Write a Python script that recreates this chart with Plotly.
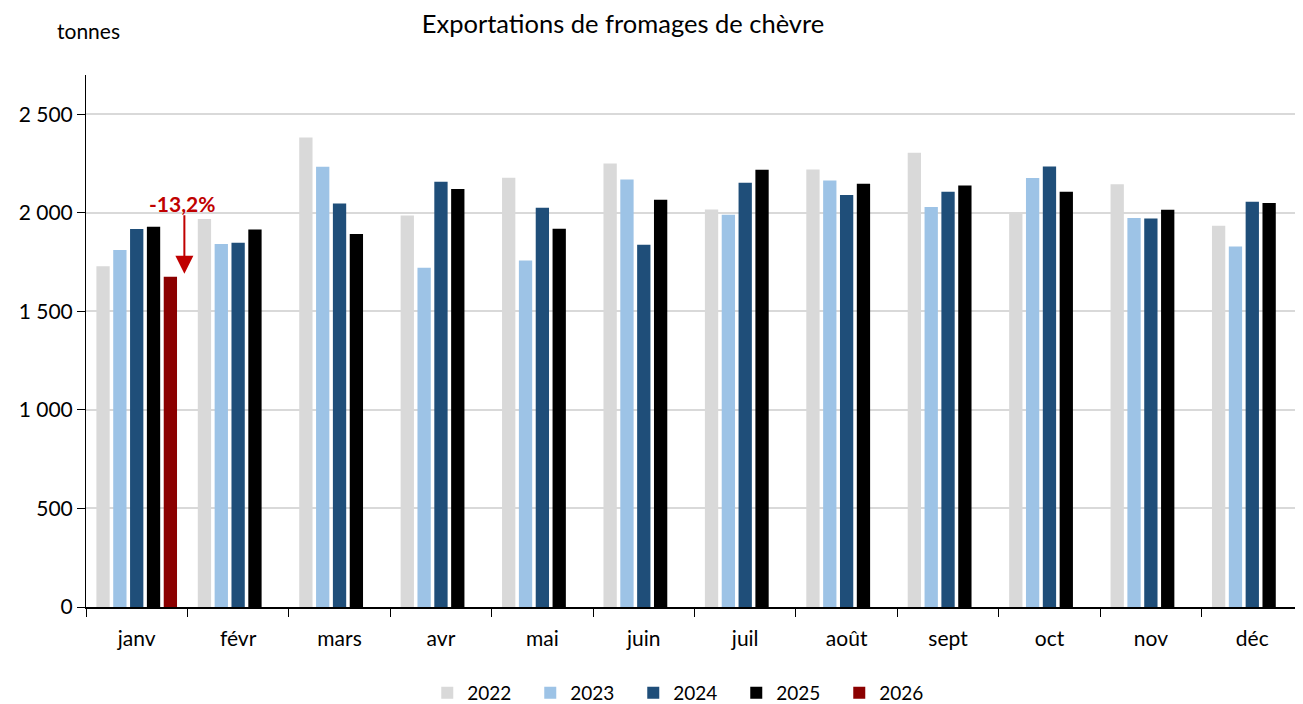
import plotly.graph_objects as go

months = ["janv", "févr", "mars", "avr", "mai", "juin", "juil", "août", "sept", "oct", "nov", "déc"]
v2022 = [1729, 1969, 2383, 1987, 2178, 2251, 2018, 2220, 2305, 2000, 2145, 1935]
v2023 = [1812, 1842, 2234, 1722, 1758, 2170, 1991, 2165, 2030, 2177, 1974, 1830]
v2024 = [1918, 1849, 2048, 2158, 2026, 1839, 2153, 2091, 2107, 2236, 1972, 2057]
v2025 = [1930, 1916, 1893, 2121, 1920, 2067, 2219, 2148, 2139, 2107, 2016, 2050]
v2026 = [1676, None, None, None, None, None, None, None, None, None, None, None]
change_label = "-13,2%"

series = [
    ("2022", v2022, "#d9d9d9"),
    ("2023", v2023, "#9dc3e6"),
    ("2024", v2024, "#1f4e79"),
    ("2025", v2025, "#000000"),
    ("2026", v2026, "#8b0000"),
]

FONT = "Lato"
W, H = 1295, 696
L, T, B = 78, 67, 97
plot_h = H - T - B

fig = go.Figure()
for name, vals, col in series:
    fig.add_trace(go.Bar(x=months, y=vals, name=name, marker=dict(color=col, line=dict(width=0))))

fig.update_layout(
    width=W, height=H,
    barmode="group", bargap=0.17, bargroupgap=0.21,
    plot_bgcolor="white", paper_bgcolor="white",
    separators=", ",
    margin=dict(l=L, r=0, t=T, b=B, autoexpand=False),
    font=dict(family=FONT, size=20, color="#000000"),
    title=dict(text="Exportations de fromages de chèvre", x=(623 - 8) / W, xanchor="center",
               y=1 - 16.5 / H, yanchor="middle", font=dict(family=FONT, size=25.5, color="#000000")),
    legend=dict(orientation="h", x=0.492, xanchor="center", y=-(685 - (T + plot_h)) / plot_h,
                yanchor="middle", font=dict(family=FONT, size=19), itemwidth=30, entrywidth=58),
    showlegend=True,
)
fig.update_yaxes(range=[0, 2700], tickvals=[0, 500, 1000, 1500, 2000, 2500], tickformat=",d",
                 showgrid=True, gridcolor="#d9d9d9", gridwidth=2,
                 showline=True, linecolor="#000000", linewidth=1,
                 ticks="outside", ticklen=8, tickcolor="#000000", zeroline=False,
                 tickfont=dict(family=FONT, size=21), automargin=False)
fig.update_xaxes(showline=True, linecolor="#000000", linewidth=1.5,
                 ticks="outside", ticklen=8, tickcolor="#000000", tickson="boundaries",
                 tickfont=dict(family=FONT, size=21), ticklabelstandoff=12, automargin=False)

fig.add_annotation(x=0.47, y=v2026[0] + 15, ax=0.47, ay=v2025[0] + 66,
                   xref="x", yref="y", axref="x", ayref="y",
                   showarrow=True, arrowhead=2, arrowsize=1.8, arrowwidth=2,
                   arrowcolor="#c00000", text="")
fig.add_annotation(x=0.45, y=v2025[0] + 117, xref="x", yref="y", showarrow=False,
                   text="<b>" + change_label + "</b>",
                   font=dict(family=FONT, size=21, color="#c00000"))
fig.add_annotation(x=(88 - 8 - L) / (W - L), y=(T - 22) / plot_h + 1, xref="paper", yref="paper",
                   xanchor="center", yanchor="middle", showarrow=False, text="tonnes",
                   font=dict(family=FONT, size=21, color="#000000"))

fig.write_html("out.html")
